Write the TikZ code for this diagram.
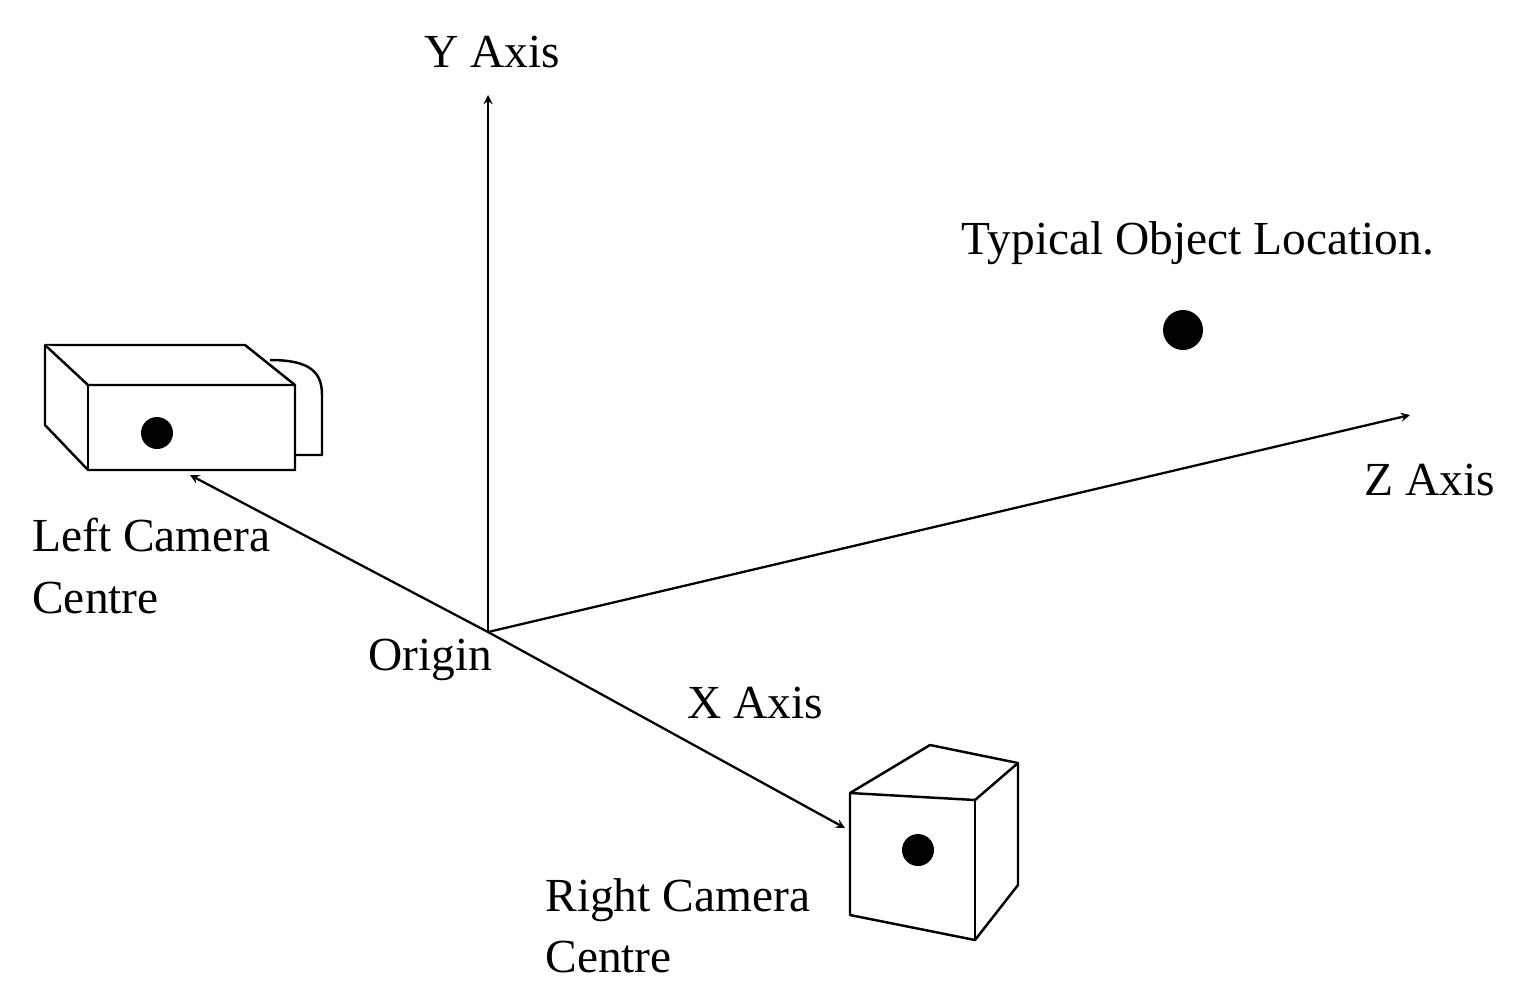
\documentclass[tikz,border=0pt]{standalone}
\usepackage{fontspec}
\setmainfont{Liberation Serif}
\usetikzlibrary{positioning,calc}
\begin{document}
\begin{tikzpicture}[x=0.02cm,y=-0.02cm,
    lbl/.style={font=\fontsize{27}{35}\selectfont,inner sep=0pt},
    axis/.style={draw,line width=1.3pt,-stealth},
    body/.style={draw,line width=1.4pt,fill=white,line join=round},
    dot/.style={circle,fill=black,inner sep=0pt}]
  \useasboundingbox (0,0) rectangle (1533,995);
  % axes
  \coordinate (o) at (488,632);
  \coordinate (ytip) at (488,95);
  \coordinate (ztip) at (1410,415);
  \coordinate (lcam) at (190,475);
  \coordinate (rcam) at (845,828);
  \draw[axis] (o) -- (ytip);
  \draw[axis] (o) -- (ztip);
  \draw[axis] (o) -- (lcam);
  \draw[axis] (o) -- (rcam);
  % left camera
  \draw[body] (270,360) .. controls (310,360) and (322,372) .. (322,395)
    -- (322,455) -- (295,455);
  \draw[body] (45,345) -- (245,345) -- (295,385) -- (295,470) -- (88,470)
    -- (45,425) -- cycle;
  \draw[body] (45,345) -- (88,385) -- (295,385);
  \draw[body] (88,385) -- (88,470);
  \node[dot,minimum size=0.64cm] (ldot) at (157,433) {};
  % right camera
  \draw[body] (850,793) -- (930,745) -- (1018,763) -- (1018,885) -- (975,940)
    -- (850,915) -- cycle;
  \draw[body] (850,793) -- (975,800) -- (1018,763);
  \draw[body] (975,800) -- (975,940);
  \node[dot,minimum size=0.64cm] (rdot) at (918,850) {};
  % object
  \node[dot,minimum size=0.8cm] (obj) at (1183,330) {};
  % labels
  \node[lbl] (ylab) at (492,52) {Y Axis};
  \node[lbl] (zlab) at (1430,480) {Z Axis};
  \node[lbl] (xlab) at (755,703) {X Axis};
  \node[lbl] (olab) at (430,660) {Origin};
  \node[lbl] (objlab) at (1198,243) {Typical Object Location.};
  \node[lbl,anchor=west,align=left] (llab) at (32,566) {Left Camera\\Centre};
  \node[lbl,anchor=west,align=left] (rlab) at (545,926) {Right Camera\\Centre};
\end{tikzpicture}
\end{document}
